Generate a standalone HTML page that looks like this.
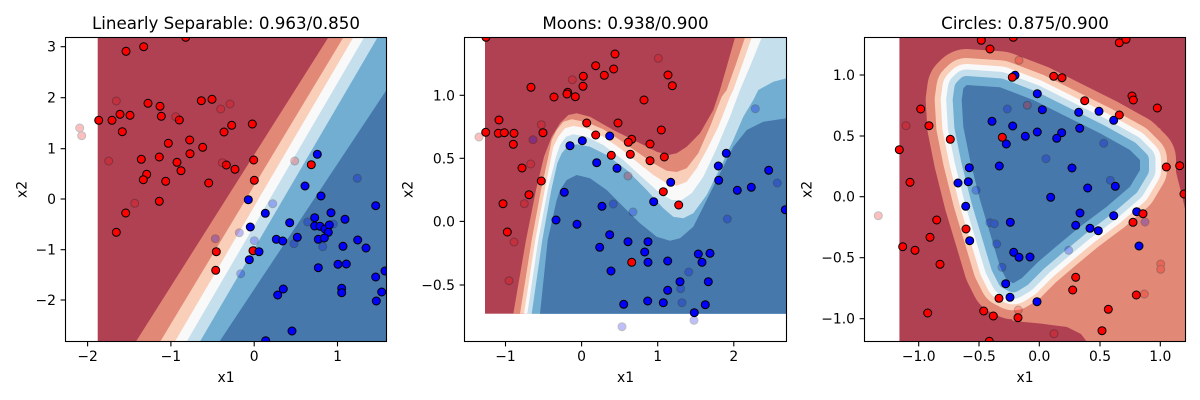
<!DOCTYPE html>
<html>
<head>
<meta charset="utf-8">
<style>
html,body{margin:0;padding:0;background:#fff;}
svg{display:block;}
text{font-family:"DejaVu Sans","Liberation Sans",sans-serif;fill:#000;}
</style>
</head>
<body>
<svg width="1200" height="400" viewBox="0 0 1200 400" xmlns="http://www.w3.org/2000/svg">
<defs>
<clipPath id="c1"><rect x="65.5" y="37.5" width="321" height="304"/></clipPath>
<clipPath id="c2"><rect x="464.5" y="37.5" width="322" height="304"/></clipPath>
<clipPath id="c3"><rect x="864.5" y="37.5" width="321" height="304"/></clipPath>
<clipPath id="k3"><rect x="899.3" y="37.5" width="286.2" height="304"/></clipPath>
</defs>
<rect width="1200" height="400" fill="#fff"/>

<!-- ================= PLOT 1 ================= -->
<g clip-path="url(#c1)">
<rect x="97.7" y="37.5" width="288.8" height="304" fill="#B04153"/>
<polygon points="328.3,37.5 386.5,37.5 386.5,341.5 136,341.5" fill="#E28877"/>
<polygon points="343.3,37.5 386.5,37.5 386.5,341.5 160.3,341.5" fill="#FACFBA"/>
<polygon points="353.3,37.5 386.5,37.5 386.5,341.5 175,341.5" fill="#F9F9F9"/>
<polygon points="364,37.5 386.5,37.5 386.5,341.5 186.7,341.5" fill="#C5DFED"/>
<polygon points="377.5,37.5 386.5,37.5 386.5,341.5 200,341.5" fill="#72AED2"/>
<polygon points="386.5,90 386.5,341.5 219.5,341.5" fill="#4778AC"/>
<g fill="#f00" stroke="#000" stroke-width="1">
<circle cx="185.7" cy="37.3" r="4"/><circle cx="126" cy="51.3" r="4"/><circle cx="143.7" cy="46.7" r="4"/><circle cx="148" cy="103.3" r="4"/><circle cx="160" cy="106.3" r="4"/><circle cx="201.3" cy="100.7" r="4"/><circle cx="212" cy="99.3" r="4"/><circle cx="98.7" cy="120.3" r="4"/><circle cx="112" cy="120.3" r="4"/><circle cx="120" cy="114.3" r="4"/><circle cx="130" cy="115.3" r="4"/><circle cx="122.3" cy="131.7" r="4"/><circle cx="161.3" cy="116.3" r="4"/><circle cx="179.3" cy="120" r="4"/><circle cx="252.3" cy="124" r="4"/><circle cx="231.7" cy="125.3" r="4"/><circle cx="224" cy="132" r="4"/><circle cx="189.7" cy="140" r="4"/><circle cx="168.3" cy="143.3" r="4"/><circle cx="202.7" cy="147.3" r="4"/><circle cx="190" cy="153.7" r="4"/><circle cx="159.3" cy="157" r="4"/><circle cx="141.3" cy="159.3" r="4"/><circle cx="177" cy="162.3" r="4"/><circle cx="181" cy="170.7" r="4"/><circle cx="146.7" cy="174.3" r="4"/><circle cx="143.3" cy="179.7" r="4"/><circle cx="165.7" cy="181.3" r="4"/><circle cx="208.7" cy="183" r="4"/><circle cx="226.3" cy="165" r="4"/><circle cx="235" cy="169.3" r="4"/><circle cx="253.7" cy="160" r="4"/><circle cx="311.3" cy="164.7" r="4"/><circle cx="254.3" cy="180.3" r="4"/><circle cx="159.3" cy="201.3" r="4"/><circle cx="125.7" cy="213" r="4"/><circle cx="116.3" cy="232.3" r="4"/><circle cx="216.3" cy="251.7" r="4"/><circle cx="215.7" cy="270.3" r="4"/><circle cx="253" cy="250.7" r="4"/>
</g>
<g fill="#00f" stroke="#000" stroke-width="1">
<circle cx="317.3" cy="154.3" r="4"/><circle cx="305" cy="186" r="4"/><circle cx="321" cy="196" r="4"/><circle cx="248.3" cy="199.7" r="4"/><circle cx="265.3" cy="213.3" r="4"/><circle cx="331" cy="212.7" r="4"/><circle cx="375.7" cy="205.7" r="4"/><circle cx="250.3" cy="227" r="4"/><circle cx="289.7" cy="222.7" r="4"/><circle cx="314.7" cy="217.7" r="4"/><circle cx="314.7" cy="226" r="4"/><circle cx="320" cy="226.3" r="4"/><circle cx="325" cy="229" r="4"/><circle cx="329.3" cy="225" r="4"/><circle cx="328.3" cy="232.3" r="4"/><circle cx="345" cy="219.3" r="4"/><circle cx="318.3" cy="239.3" r="4"/><circle cx="324.3" cy="238" r="4"/><circle cx="297.3" cy="237.3" r="4"/><circle cx="276.3" cy="239.3" r="4"/><circle cx="282.7" cy="241" r="4"/><circle cx="357.7" cy="240" r="4"/><circle cx="343" cy="246.3" r="4"/><circle cx="366" cy="248" r="4"/><circle cx="259" cy="251.7" r="4"/><circle cx="249.3" cy="259.7" r="4"/><circle cx="318.3" cy="267.7" r="4"/><circle cx="338" cy="264.3" r="4"/><circle cx="346.3" cy="264" r="4"/><circle cx="375.7" cy="277" r="4"/><circle cx="385" cy="271" r="4"/><circle cx="283.3" cy="289" r="4"/><circle cx="277.7" cy="295" r="4"/><circle cx="341.7" cy="288.3" r="4"/><circle cx="341.7" cy="292.7" r="4"/><circle cx="381.7" cy="292" r="4"/><circle cx="376.3" cy="301" r="4"/><circle cx="292" cy="331" r="4"/><circle cx="265.7" cy="340.7" r="4"/>
</g>
<g fill="#f00" stroke="#000" stroke-width="1" opacity="0.25">
<circle cx="79.7" cy="128" r="4"/><circle cx="81.7" cy="135.7" r="4"/><circle cx="116.3" cy="101" r="4"/><circle cx="108.7" cy="161" r="4"/><circle cx="134.7" cy="203.3" r="4"/><circle cx="175.7" cy="116.7" r="4"/><circle cx="220.7" cy="109" r="4"/><circle cx="230" cy="104" r="4"/><circle cx="222.3" cy="162.7" r="4"/><circle cx="294.7" cy="161" r="4"/>
</g>
<g fill="#00f" stroke="#000" stroke-width="1" opacity="0.25">
<circle cx="215.3" cy="238.7" r="4"/><circle cx="239.3" cy="232.7" r="4"/><circle cx="272.7" cy="203.7" r="4"/><circle cx="254.3" cy="240.7" r="4"/><circle cx="240.7" cy="273.7" r="4"/><circle cx="294" cy="243.7" r="4"/><circle cx="307.7" cy="222" r="4"/><circle cx="322.7" cy="246.7" r="4"/><circle cx="333.3" cy="224" r="4"/><circle cx="357.3" cy="178.3" r="4"/>
</g>
</g>
<rect x="65.5" y="37.5" width="321" height="304" fill="none" stroke="#000" stroke-width="1.1"/>
<g stroke="#000" stroke-width="1.1">
<line x1="87.6" y1="341.5" x2="87.6" y2="346.4"/><line x1="170.9" y1="341.5" x2="170.9" y2="346.4"/><line x1="254.2" y1="341.5" x2="254.2" y2="346.4"/><line x1="337.5" y1="341.5" x2="337.5" y2="346.4"/>
<line x1="65.5" y1="46.7" x2="60.6" y2="46.7"/><line x1="65.5" y1="97.7" x2="60.6" y2="97.7"/><line x1="65.5" y1="148.7" x2="60.6" y2="148.7"/><line x1="65.5" y1="199" x2="60.6" y2="199"/><line x1="65.5" y1="249.7" x2="60.6" y2="249.7"/><line x1="65.5" y1="300" x2="60.6" y2="300"/>
</g>
<g font-size="13.9" text-anchor="middle">
<text x="87.6" y="361">−2</text><text x="170.9" y="361">−1</text><text x="254.2" y="361">0</text><text x="337.5" y="361">1</text>
</g>
<g font-size="13.9" text-anchor="end">
<text x="56" y="51.7">3</text><text x="56" y="102.7">2</text><text x="56" y="153.7">1</text><text x="56" y="204">0</text><text x="56" y="254.7">−1</text><text x="56" y="305">−2</text>
</g>
<text x="226" y="382" font-size="13.9" text-anchor="middle">x1</text>
<text transform="translate(26.7,189.5) rotate(-90)" font-size="13.9" text-anchor="middle">x2</text>
<text x="226" y="29" font-size="16.7" text-anchor="middle">Linearly Separable: 0.963/0.850</text>

<!-- ================= PLOT 2 ================= -->
<g clip-path="url(#c2)">
<rect x="485" y="37.5" width="301.5" height="276.2" fill="#B04153"/>
<path fill="#E28877" d="M735,37.5 L727.5,64 L720,90 L713.3,110 L700,133.3 L686.7,146.7 L676.7,153.3 L668.3,155 L656.7,151.7 L640,143.3 L613.3,130 L590,116.7 L576.7,113.3 L568.3,115 L560,123.3 L551.7,136.7 L544,156.7 L536,190 L526,240 L513.3,313.7 L786.5,313.7 L786.5,37.5 Z"/>
<path fill="#FACFBA" d="M745,37.5 L736,64 L726.7,90 L721.7,96.7 L710,126.7 L698.3,153.3 L686.7,168.3 L676.7,172 L666.7,170.7 L653.3,163.3 L636.7,151.7 L620,140 L603.3,129.3 L586.7,122.3 L571.7,119.3 L563.3,121.7 L556.7,130 L551.7,140 L548.3,156.7 L541,190 L531.7,240 L520,313.7 L786.5,313.7 L786.5,37.5 Z"/>
<path fill="#F9F9F9" d="M751.7,37.5 L742.5,64 L733.3,90 L730,96.7 L718.3,126.7 L706.7,150 L696.7,168.3 L686.7,181.7 L676.7,185.7 L666.7,183.3 L653.3,175 L636.7,161.7 L620,148.3 L603.3,136.7 L586.7,128.3 L573.3,126 L565,128.3 L558.3,136.7 L553.3,146.7 L551.3,156.7 L544.7,190 L535.3,240 L524,313.7 L786.5,313.7 L786.5,37.5 Z"/>
<path fill="#C5DFED" d="M761.7,37.5 L751,64 L740,90 L730,116.7 L716.7,148.3 L703.3,176.7 L691.7,193.3 L681.7,200 L671.7,200 L660,193.3 L643.3,178.3 L623.3,160 L603.3,145 L586.7,136.7 L573.3,134.3 L566,136.7 L560,145 L556,156.7 L547.7,190 L538.3,240 L527.3,313.7 L786.5,313.7 L786.5,37.5 Z"/>
<path fill="#72AED2" d="M786.5,78.3 L773.3,81.7 L758.3,90 L753.3,100 L743.3,116.7 L733.3,140 L720,168.3 L706.7,195 L693.3,213.3 L683.3,218.3 L673.3,216.7 L663.3,208.3 L646.7,190 L626.7,170 L606.7,155 L590,146.7 L576.7,144.3 L567.3,146.7 L561.7,153.3 L557.3,163.3 L551.3,190 L542.3,240 L531.7,313.7 L786.5,313.7 Z"/>
<path fill="#4778AC" d="M786.5,118.3 L763.3,121.7 L746.7,130 L733.3,146.7 L720,173.3 L706.7,200 L693.3,226.7 L680,238.3 L670,240.7 L656.7,236.7 L640,223.3 L623.3,206.7 L606.7,190 L590,178.3 L576.7,175 L566.7,180 L560,190 L556.7,200 L547.7,240 L540,313.7 L786.5,313.7 Z"/>
<g fill="#f00" stroke="#000" stroke-width="1">
<circle cx="486" cy="37.3" r="4"/><circle cx="615" cy="54" r="4"/><circle cx="595.7" cy="65.7" r="4"/><circle cx="613.7" cy="69" r="4"/><circle cx="604.3" cy="75.3" r="4"/><circle cx="583.3" cy="76.3" r="4"/><circle cx="668" cy="75" r="4"/><circle cx="672.3" cy="85.7" r="4"/><circle cx="583" cy="86.3" r="4"/><circle cx="531" cy="87.3" r="4"/><circle cx="567.7" cy="92.3" r="4"/><circle cx="567" cy="94" r="4"/><circle cx="575.3" cy="96.7" r="4"/><circle cx="554" cy="97" r="4"/><circle cx="644" cy="100" r="4"/><circle cx="499" cy="120" r="4"/><circle cx="485.7" cy="132.3" r="4"/><circle cx="498.3" cy="133.3" r="4"/><circle cx="504.3" cy="132.7" r="4"/><circle cx="514" cy="133.3" r="4"/><circle cx="543" cy="132.7" r="4"/><circle cx="513.3" cy="144.3" r="4"/><circle cx="586.7" cy="123" r="4"/><circle cx="618" cy="123" r="4"/><circle cx="661.3" cy="130" r="4"/><circle cx="595.7" cy="135" r="4"/><circle cx="631.7" cy="139.3" r="4"/><circle cx="628.3" cy="142.3" r="4"/><circle cx="650" cy="144" r="4"/><circle cx="611.3" cy="155.3" r="4"/><circle cx="630.3" cy="154.3" r="4"/><circle cx="650" cy="160.7" r="4"/><circle cx="664.3" cy="157" r="4"/><circle cx="522" cy="168" r="4"/><circle cx="541.3" cy="181" r="4"/><circle cx="529" cy="194.7" r="4"/><circle cx="663.3" cy="191.7" r="4"/><circle cx="678.7" cy="205" r="4"/><circle cx="503" cy="203.7" r="4"/><circle cx="507.3" cy="232" r="4"/><circle cx="631.7" cy="262.3" r="4"/>
</g>
<g fill="#00f" stroke="#000" stroke-width="1">
<circle cx="570" cy="145.7" r="4"/><circle cx="582.3" cy="140.7" r="4"/><circle cx="609.7" cy="136" r="4"/><circle cx="596.7" cy="162.7" r="4"/><circle cx="617" cy="168.3" r="4"/><circle cx="670.7" cy="182.3" r="4"/><circle cx="726.3" cy="153.3" r="4"/><circle cx="718.3" cy="166" r="4"/><circle cx="718.7" cy="180.3" r="4"/><circle cx="768.7" cy="170.3" r="4"/><circle cx="737.3" cy="190.3" r="4"/><circle cx="751.3" cy="187.3" r="4"/><circle cx="785.3" cy="209.7" r="4"/><circle cx="564.3" cy="192.3" r="4"/><circle cx="602" cy="206.3" r="4"/><circle cx="653.7" cy="201.7" r="4"/><circle cx="556" cy="220" r="4"/><circle cx="577" cy="224.3" r="4"/><circle cx="609.7" cy="234.7" r="4"/><circle cx="628" cy="241.7" r="4"/><circle cx="648" cy="241.7" r="4"/><circle cx="599.7" cy="247.3" r="4"/><circle cx="644.7" cy="252" r="4"/><circle cx="648" cy="262.3" r="4"/><circle cx="667.7" cy="261" r="4"/><circle cx="698.3" cy="254" r="4"/><circle cx="710" cy="253.3" r="4"/><circle cx="702" cy="262.3" r="4"/><circle cx="611" cy="271" r="4"/><circle cx="680" cy="281.7" r="4"/><circle cx="708.3" cy="281.7" r="4"/><circle cx="667.7" cy="290.3" r="4"/><circle cx="623.7" cy="304.3" r="4"/><circle cx="647.7" cy="301" r="4"/><circle cx="663.3" cy="302.7" r="4"/><circle cx="705.3" cy="304.7" r="4"/><circle cx="694.3" cy="312.7" r="4"/>
</g>
<g fill="#f00" stroke="#000" stroke-width="1" opacity="0.25">
<circle cx="479" cy="137" r="4"/><circle cx="572.3" cy="79.7" r="4"/><circle cx="658.3" cy="58.3" r="4"/><circle cx="541.3" cy="124.7" r="4"/><circle cx="530.7" cy="164" r="4"/><circle cx="524.3" cy="203.7" r="4"/><circle cx="514" cy="242" r="4"/><circle cx="509" cy="280.7" r="4"/><circle cx="628" cy="176" r="4"/>
</g>
<g fill="#00f" stroke="#000" stroke-width="1" opacity="0.25">
<circle cx="533" cy="139.7" r="4"/><circle cx="613.3" cy="204" r="4"/><circle cx="633" cy="212" r="4"/><circle cx="727.3" cy="219" r="4"/><circle cx="755.3" cy="108.7" r="4"/><circle cx="777.3" cy="183" r="4"/><circle cx="688.7" cy="272" r="4"/><circle cx="680.7" cy="288.7" r="4"/><circle cx="682" cy="302.7" r="4"/><circle cx="622" cy="326.7" r="4"/><circle cx="694" cy="320.3" r="4"/>
</g>
</g>
<rect x="464.5" y="37.5" width="322" height="304" fill="none" stroke="#000" stroke-width="1.1"/>
<g stroke="#000" stroke-width="1.1">
<line x1="505.5" y1="341.5" x2="505.5" y2="346.4"/><line x1="581.6" y1="341.5" x2="581.6" y2="346.4"/><line x1="657.7" y1="341.5" x2="657.7" y2="346.4"/><line x1="733.8" y1="341.5" x2="733.8" y2="346.4"/>
<line x1="464.5" y1="95.3" x2="459.6" y2="95.3"/><line x1="464.5" y1="158.3" x2="459.6" y2="158.3"/><line x1="464.5" y1="221.4" x2="459.6" y2="221.4"/><line x1="464.5" y1="285" x2="459.6" y2="285"/>
</g>
<g font-size="13.9" text-anchor="middle">
<text x="505.5" y="361">−1</text><text x="581.6" y="361">0</text><text x="657.7" y="361">1</text><text x="733.8" y="361">2</text>
</g>
<g font-size="13.9" text-anchor="end">
<text x="455" y="100.3">1.0</text><text x="455" y="163.3">0.5</text><text x="455" y="226.4">0.0</text><text x="455" y="290">−0.5</text>
</g>
<text x="625.5" y="382" font-size="13.9" text-anchor="middle">x1</text>
<text transform="translate(412.3,189.5) rotate(-90)" font-size="13.9" text-anchor="middle">x2</text>
<text x="625.5" y="29" font-size="16.7" text-anchor="middle">Moons: 0.938/0.900</text>

<!-- ================= PLOT 3 ================= -->
<g clip-path="url(#k3)">
<rect x="899.3" y="37.5" width="286.2" height="304" fill="#B04153"/>
<polygon fill="#E28877" points="1160,128 1170,155 1176,172 1180,188 1183,200 1186,213 1186,342 1087,342 1081,334 1067,327 1040,323.5 1013,321 1000,300 1100,180"/>
<g stroke-linejoin="round">
<path fill="#E28877" stroke="#E28877" stroke-width="72" d="M966.7,85 L1000,87.3 L1033.3,100 L1066.7,116.7 L1100,133.3 L1130,150 L1140,160 L1140,170 L1130,186.7 L1106.7,206.7 L1080,226.7 L1058,245 L1038,262 L1022,278 L1013.3,283.3 L1006.7,280 L1000,266.7 L990,233.3 L980,200 L970,160 L963.3,126.7 L961.7,100 L963.3,88.3 Z"/>
<path fill="#FACFBA" stroke="#FACFBA" stroke-width="54" d="M966.7,85 L1000,87.3 L1033.3,100 L1066.7,116.7 L1100,133.3 L1130,150 L1140,160 L1140,170 L1130,186.7 L1106.7,206.7 L1080,226.7 L1058,245 L1038,262 L1022,278 L1013.3,283.3 L1006.7,280 L1000,266.7 L990,233.3 L980,200 L970,160 L963.3,126.7 L961.7,100 L963.3,88.3 Z"/>
<path fill="#F9F9F9" stroke="#F9F9F9" stroke-width="42" d="M966.7,85 L1000,87.3 L1033.3,100 L1066.7,116.7 L1100,133.3 L1130,150 L1140,160 L1140,170 L1130,186.7 L1106.7,206.7 L1080,226.7 L1058,245 L1038,262 L1022,278 L1013.3,283.3 L1006.7,280 L1000,266.7 L990,233.3 L980,200 L970,160 L963.3,126.7 L961.7,100 L963.3,88.3 Z"/>
<path fill="#C5DFED" stroke="#C5DFED" stroke-width="31" d="M966.7,85 L1000,87.3 L1033.3,100 L1066.7,116.7 L1100,133.3 L1130,150 L1140,160 L1140,170 L1130,186.7 L1106.7,206.7 L1080,226.7 L1058,245 L1038,262 L1022,278 L1013.3,283.3 L1006.7,280 L1000,266.7 L990,233.3 L980,200 L970,160 L963.3,126.7 L961.7,100 L963.3,88.3 Z"/>
<path fill="#72AED2" stroke="#72AED2" stroke-width="18" d="M966.7,85 L1000,87.3 L1033.3,100 L1066.7,116.7 L1100,133.3 L1130,150 L1140,160 L1140,170 L1130,186.7 L1106.7,206.7 L1080,226.7 L1058,245 L1038,262 L1022,278 L1013.3,283.3 L1006.7,280 L1000,266.7 L990,233.3 L980,200 L970,160 L963.3,126.7 L961.7,100 L963.3,88.3 Z"/>
<path fill="#4778AC" d="M966.7,85 L1000,87.3 L1033.3,100 L1066.7,116.7 L1100,133.3 L1130,150 L1140,160 L1140,170 L1130,186.7 L1106.7,206.7 L1080,226.7 L1058,245 L1038,262 L1022,278 L1013.3,283.3 L1006.7,280 L1000,266.7 L990,233.3 L980,200 L970,160 L963.3,126.7 L961.7,100 L963.3,88.3 Z"/>
</g>
</g>
<g clip-path="url(#c3)">
<g fill="#00f" stroke="#000" stroke-width="1">
<circle cx="1015" cy="75.3" r="4"/><circle cx="1037.3" cy="93.7" r="4"/><circle cx="1042.3" cy="109.7" r="4"/><circle cx="1078.7" cy="112.3" r="4"/><circle cx="1099" cy="111.3" r="4"/><circle cx="1113.7" cy="120.3" r="4"/><circle cx="992" cy="121.3" r="4"/><circle cx="1012.7" cy="126" r="4"/><circle cx="1079.7" cy="128.3" r="4"/><circle cx="1025.3" cy="136.3" r="4"/><circle cx="1037.3" cy="132" r="4"/><circle cx="1061.7" cy="132.7" r="4"/><circle cx="1056.7" cy="138.3" r="4"/><circle cx="1006.3" cy="144" r="4"/><circle cx="999.3" cy="166" r="4"/><circle cx="969.3" cy="167.7" r="4"/><circle cx="1072" cy="168" r="4"/><circle cx="958" cy="183" r="4"/><circle cx="968.3" cy="181.7" r="4"/><circle cx="965.7" cy="206.3" r="4"/><circle cx="969.7" cy="240.7" r="4"/><circle cx="1050.7" cy="197.3" r="4"/><circle cx="1087.7" cy="188" r="4"/><circle cx="1115.3" cy="186.3" r="4"/><circle cx="1010.3" cy="222.3" r="4"/><circle cx="1080" cy="213" r="4"/><circle cx="1075.7" cy="225.3" r="4"/><circle cx="1090" cy="228.3" r="4"/><circle cx="1098.3" cy="230.7" r="4"/><circle cx="1113.7" cy="215.7" r="4"/><circle cx="1136.7" cy="211.7" r="4"/><circle cx="1139" cy="246" r="4"/><circle cx="1013.7" cy="252.3" r="4"/><circle cx="1019" cy="257.3" r="4"/><circle cx="1030" cy="257" r="4"/><circle cx="1005.7" cy="283.7" r="4"/><circle cx="1010" cy="297.3" r="4"/><circle cx="1037" cy="301.7" r="4"/>
</g>
<g fill="#f00" stroke="#000" stroke-width="1">
<circle cx="981.3" cy="40.3" r="4"/><circle cx="1013.3" cy="37.3" r="4"/><circle cx="990" cy="49" r="4"/><circle cx="1119.3" cy="42.7" r="4"/><circle cx="1126" cy="39.3" r="4"/><circle cx="1012.3" cy="77.3" r="4"/><circle cx="1053.7" cy="76.3" r="4"/><circle cx="1062" cy="77.7" r="4"/><circle cx="1132" cy="96" r="4"/><circle cx="1133.3" cy="100" r="4"/><circle cx="1084.7" cy="100.7" r="4"/><circle cx="1157.3" cy="108" r="4"/><circle cx="920.7" cy="109" r="4"/><circle cx="1119.3" cy="115" r="4"/><circle cx="929" cy="125.7" r="4"/><circle cx="1002.3" cy="137.3" r="4"/><circle cx="950.3" cy="139.3" r="4"/><circle cx="899.3" cy="149.7" r="4"/><circle cx="1166.3" cy="167" r="4"/><circle cx="1179.7" cy="165.7" r="4"/><circle cx="910" cy="182.3" r="4"/><circle cx="1184" cy="194" r="4"/><circle cx="936.7" cy="220" r="4"/><circle cx="930" cy="237.3" r="4"/><circle cx="902.7" cy="246.7" r="4"/><circle cx="915" cy="250.3" r="4"/><circle cx="940" cy="264.3" r="4"/><circle cx="966" cy="229" r="4"/><circle cx="1075.7" cy="277.3" r="4"/><circle cx="1072.7" cy="290" r="4"/><circle cx="999" cy="298.3" r="4"/><circle cx="983.7" cy="311" r="4"/><circle cx="993.3" cy="316" r="4"/><circle cx="1018" cy="317.7" r="4"/><circle cx="1108.3" cy="309.3" r="4"/><circle cx="1136.3" cy="295" r="4"/><circle cx="1133" cy="222.3" r="4"/><circle cx="1143" cy="213.7" r="4"/><circle cx="927.7" cy="313" r="4"/><circle cx="1102" cy="330.7" r="4"/><circle cx="989.3" cy="341.3" r="4"/>
</g>
<g fill="#f00" stroke="#000" stroke-width="1" opacity="0.25">
<circle cx="878.3" cy="215.7" r="4"/><circle cx="906" cy="125.7" r="4"/><circle cx="1019" cy="60.3" r="4"/><circle cx="1027.3" cy="105.3" r="4"/><circle cx="1160.7" cy="264" r="4"/><circle cx="1160.7" cy="269.3" r="4"/><circle cx="1144.3" cy="294" r="4"/><circle cx="1018.3" cy="310" r="4"/><circle cx="1054" cy="333.7" r="4"/>
</g>
<g fill="#00f" stroke="#000" stroke-width="1" opacity="0.25">
<circle cx="1007.3" cy="109" r="4"/><circle cx="1046" cy="158.7" r="4"/><circle cx="1103.7" cy="143.3" r="4"/><circle cx="1110.3" cy="180.3" r="4"/><circle cx="976" cy="190.3" r="4"/><circle cx="990" cy="222.7" r="4"/><circle cx="994.3" cy="223.7" r="4"/><circle cx="996.7" cy="244" r="4"/><circle cx="1002" cy="267.3" r="4"/><circle cx="1068.7" cy="250.3" r="4"/><circle cx="1145" cy="222" r="4"/>
</g>
</g>
<rect x="864.5" y="37.5" width="321" height="304" fill="none" stroke="#000" stroke-width="1.1"/>
<g stroke="#000" stroke-width="1.1">
<line x1="918.7" y1="341.5" x2="918.7" y2="346.4"/><line x1="979" y1="341.5" x2="979" y2="346.4"/><line x1="1039.3" y1="341.5" x2="1039.3" y2="346.4"/><line x1="1100" y1="341.5" x2="1100" y2="346.4"/><line x1="1160.3" y1="341.5" x2="1160.3" y2="346.4"/>
<line x1="864.5" y1="75" x2="859.6" y2="75"/><line x1="864.5" y1="136" x2="859.6" y2="136"/><line x1="864.5" y1="196.7" x2="859.6" y2="196.7"/><line x1="864.5" y1="257.7" x2="859.6" y2="257.7"/><line x1="864.5" y1="318.7" x2="859.6" y2="318.7"/>
</g>
<g font-size="13.9" text-anchor="middle">
<text x="918.7" y="361">−1.0</text><text x="979" y="361">−0.5</text><text x="1039.3" y="361">0.0</text><text x="1100" y="361">0.5</text><text x="1160.3" y="361">1.0</text>
</g>
<g font-size="13.9" text-anchor="end">
<text x="855" y="80">1.0</text><text x="855" y="141">0.5</text><text x="855" y="201.7">0.0</text><text x="855" y="262.7">−0.5</text><text x="855" y="323.7">−1.0</text>
</g>
<text x="1025" y="382" font-size="13.9" text-anchor="middle">x1</text>
<text transform="translate(811.7,189.5) rotate(-90)" font-size="13.9" text-anchor="middle">x2</text>
<text x="1025" y="29" font-size="16.7" text-anchor="middle">Circles: 0.875/0.900</text>
</svg>
</body>
</html>
